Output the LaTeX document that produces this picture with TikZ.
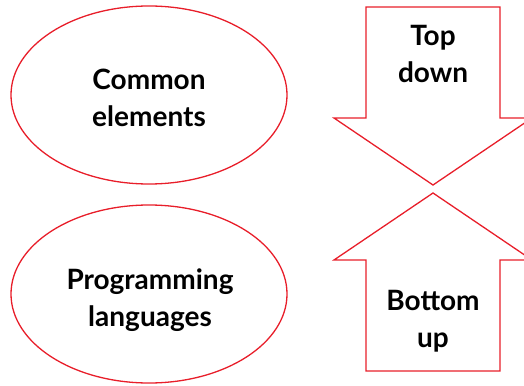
\documentclass[tikz,border=0pt]{standalone}
\usepackage{fontspec}
\setmainfont{Lato}
\definecolor{abbred}{RGB}{232,30,42}
\begin{document}
\begin{tikzpicture}[x=1pt,y=-1pt,
  redline/.style={draw=abbred,line width=1.3pt,line join=miter},
  lbl/.style={align=center,font=\fontsize{28}{36.5}\selectfont\bfseries,text=black,inner sep=0pt}]
\useasboundingbox (0,0) rectangle (524,385);
\clip (0,0) rectangle (524,385);
\draw[redline] (149,95) ellipse [x radius=138, y radius=89];
\node[lbl] (ce) at (149,98) {Common\\elements};
\draw[redline] (149,294) ellipse [x radius=138, y radius=89];
\node[lbl] (pl) at (150,300) {Programming\\languages};
\draw[redline] (366,7) -- (500,7) -- (500,118) -- (532,118) -- (433,185) -- (334,118) -- (366,118) -- cycle;
\node[lbl] (td) at (433,54) {Top\\down};
\draw[redline] (433,193) -- (532,260) -- (500,260) -- (500,371) -- (366,371) -- (366,260) -- (334,260) -- cycle;
\node[lbl] (bu) at (433,321) {Bottom\\up};
\end{tikzpicture}
\end{document}
